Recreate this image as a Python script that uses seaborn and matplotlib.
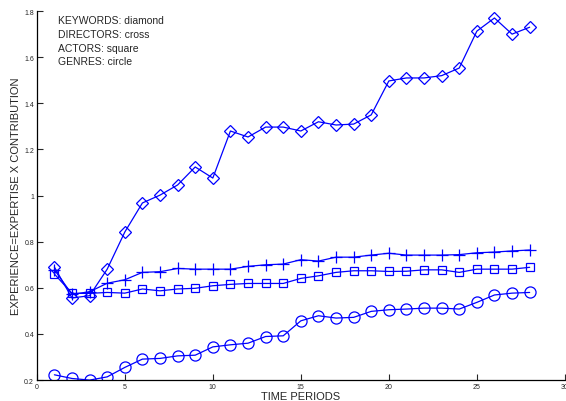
import matplotlib
matplotlib.use("Agg")
import matplotlib.pyplot as plt
import seaborn as sns
import pandas as pd

periods = list(range(1, 29))
keywords = [0.69, 0.556, 0.566, 0.681, 0.842, 0.968, 1.002, 1.046, 1.124, 1.076,
            1.28, 1.254, 1.297, 1.297, 1.28, 1.32, 1.306, 1.31, 1.35, 1.497,
            1.51, 1.51, 1.52, 1.553, 1.713, 1.77, 1.70, 1.73]
directors = [0.678, 0.572, 0.583, 0.62, 0.635, 0.667, 0.67, 0.684, 0.681, 0.681,
             0.681, 0.693, 0.70, 0.703, 0.722, 0.716, 0.733, 0.733, 0.742, 0.75,
             0.742, 0.742, 0.742, 0.744, 0.752, 0.755, 0.76, 0.764]
actors = [0.66, 0.576, 0.576, 0.58, 0.577, 0.595, 0.587, 0.595, 0.598, 0.609,
          0.615, 0.619, 0.619, 0.619, 0.641, 0.652, 0.667, 0.674, 0.674, 0.671,
          0.672, 0.678, 0.678, 0.667, 0.681, 0.681, 0.681, 0.689]
genres = [0.223, 0.207, 0.20, 0.214, 0.255, 0.291, 0.294, 0.305, 0.308, 0.344,
          0.353, 0.36, 0.389, 0.392, 0.457, 0.479, 0.469, 0.472, 0.498, 0.505,
          0.508, 0.512, 0.512, 0.508, 0.537, 0.569, 0.577, 0.58]

sns.set_style("ticks")
plt.rcParams["font.family"] = ["Liberation Sans", "DejaVu Sans"]

fig = plt.figure(figsize=(5.66, 4.02), dpi=100)
ax = fig.add_axes([0.065, 0.052, 0.933, 0.918])

series = [(keywords, "D", 6.5), (directors, "+", 8), (actors, "s", 5.5), (genres, "o", 8)]
for vals, mk, ms in series:
    df = pd.DataFrame({"t": periods, "v": vals})
    sns.lineplot(data=df, x="t", y="v", ax=ax, color="#0000ff", lw=0.9,
                 marker=mk, markersize=ms, markerfacecolor="none",
                 markeredgecolor="#0000ff", markeredgewidth=0.9)

ax.set_xlim(0, 30)
ax.set_ylim(0.2, 1.8)
ax.set_xticks([0, 5, 10, 15, 20, 25, 30])
ax.set_yticks([0.2, 0.4, 0.6, 0.8, 1.0, 1.2, 1.4, 1.6, 1.8])
ax.set_yticklabels(["0.2", "0.4", "0.6", "0.8", "1", "1.2", "1.4", "1.6", "1.8"])
ax.tick_params(direction="in", labelsize=5, length=4, width=0.8, pad=2)
sns.despine(ax=ax)
for s in ["left", "bottom"]:
    ax.spines[s].set_linewidth(0.9)
    ax.spines[s].set_color("black")

ax.set_xlabel("TIME PERIODS", fontsize=8, labelpad=1)
ax.set_ylabel("EXPERIENCE=EXPERTISE X CONTRIBUTION", fontsize=8, labelpad=2)

ax.text(0.04, 0.988, "KEYWORDS: diamond\nDIRECTORS: cross\nACTORS: square\nGENRES: circle",
        transform=ax.transAxes, fontsize=7.5, va="top", ha="left", linespacing=1.45)

fig.savefig("out.png", dpi=100)
